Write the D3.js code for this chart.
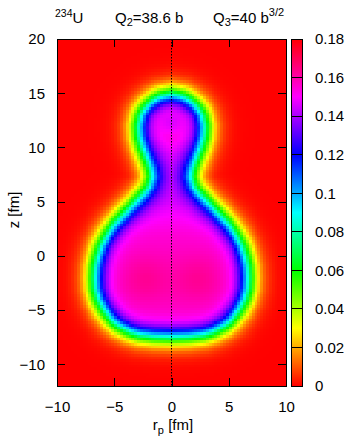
<!DOCTYPE html>
<html>
<head>
<meta charset="utf-8">
<script src="https://cdn.jsdelivr.net/npm/d3@7"></script>
<style>
  body { margin: 0; background: #fff; }
  svg text { font-family: "Liberation Sans", Arial, Helvetica, sans-serif; fill: #000; }
</style>
</head>
<body>
<svg id="chart" width="349" height="440"></svg>
<script>
// Half-density surface of the nucleus: radius r (fm) at height z (fm)
const surfaceZ = [15.0, 14.8, 14.5, 14.0, 13.5, 13.0, 12.0, 11.0, 10.0, 9.0, 8.0, 7.3, 6.5, 6.0, 5.0, 4.0, 3.0, 2.0, 1.0, 0.0, -1.0, -2.0, -3.0, -4.0, -5.0, -6.0, -6.5, -7.0, -7.3, -7.45, -7.5];
const surfaceR = [0.0, 0.95, 1.5, 2.1, 2.5, 2.75, 2.95, 2.9, 2.65, 2.3, 1.95, 1.85, 2.1, 2.45, 3.3, 4.2, 5.05, 5.7, 6.2, 6.5, 6.7, 6.75, 6.7, 6.45, 5.95, 5.2, 4.6, 3.7, 2.8, 1.5, 0.0];

// Bulk (saturation) density along the symmetry axis, fm^-3
const bulkZ   = [16, 13, 11, 9.5, 8, 6.5, 5, 3.5, 2, 0, -3, -6, -8];
const bulkRho = [0.157, 0.157, 0.155, 0.149, 0.146, 0.146, 0.147, 0.151, 0.155, 0.157, 0.158, 0.157, 0.156];

// Local bumps and dips of the inner density
const bumpR     = [0, -2.3, 2.3];
const bumpZ     = [12.3, -2.0, -2.0];
const bumpAmp   = [-0.009, 0.005, 0.005];
const bumpWidth = [0.7, 1.4, 1.4];

const diffuseness = 0.55;   // surface thickness parameter, fm
const gridStep = 0.25;      // mesh spacing, fm

const xTicks  = [-10, -5, 0, 5, 10];
const zTicks  = [-10, -5, 0, 5, 10, 15, 20];
const cbTicks = [0, 0.02, 0.04, 0.06, 0.08, 0.1, 0.12, 0.14, 0.16, 0.18];

const svg = d3.select("#chart");
const plot = { left: 57, right: 286, top: 39, bottom: 386 };
const cbar = { left: 291, right: 302 };

const x = d3.scaleLinear().domain([-10, 10]).range([plot.left, plot.right]);
const y = d3.scaleLinear().domain([-12, 20]).range([plot.bottom, plot.top]);
const cbY = d3.scaleLinear().domain([0, 0.18]).range([plot.bottom, plot.top]);

// HSV palette: hue runs once around the circle over the density range
const color = v => d3.hsl(Math.max(0, Math.min(1, v / 0.18)) * 360, 1, 0.5).toString();

const rAt = d3.scaleLinear().domain(surfaceZ).range(surfaceR);
const bulkAt = d3.scaleLinear().domain(bulkZ).range(bulkRho).clamp(true);

function segDist(px, pz, ax, az, bx, bz) {
  const dx = bx - ax, dz = bz - az;
  let t = ((px - ax) * dx + (pz - az) * dz) / (dx * dx + dz * dz);
  t = Math.max(0, Math.min(1, t));
  return Math.hypot(ax + t * dx - px, az + t * dz - pz);
}

function signedDistance(r, z) {
  const ar = Math.abs(r);
  let d = Infinity;
  for (let i = 0; i < surfaceZ.length - 1; i++) {
    d = Math.min(d, segDist(ar, z, surfaceR[i], surfaceZ[i], surfaceR[i + 1], surfaceZ[i + 1]));
  }
  const zMax = d3.max(surfaceZ), zMin = d3.min(surfaceZ);
  const inside = z <= zMax && z >= zMin && ar < rAt(z);
  return inside ? -d : d;
}

function density(r, z) {
  const f = 1 / (1 + Math.exp(signedDistance(r, z) / diffuseness));
  let rho = bulkAt(z);
  for (let k = 0; k < bumpR.length; k++) {
    const g = Math.exp(-((r - bumpR[k]) ** 2 + (z - bumpZ[k]) ** 2) / (2 * bumpWidth[k] ** 2));
    rho += bumpAmp[k] * g;
  }
  return rho * f;
}

// density mesh
const cells = [];
for (let r0 = -10; r0 < 10 - 1e-9; r0 += gridStep) {
  for (let z0 = -12; z0 < 20 - 1e-9; z0 += gridStep) {
    cells.push({ r0, z0, v: density(r0 + gridStep / 2, z0 + gridStep / 2) });
  }
}

svg.append("clipPath").attr("id", "plotClip")
  .append("rect")
  .attr("x", plot.left).attr("y", plot.top)
  .attr("width", plot.right - plot.left).attr("height", plot.bottom - plot.top);

svg.append("g").attr("clip-path", "url(#plotClip)")
  .selectAll("rect").data(cells).join("rect")
  .attr("x", d => x(d.r0))
  .attr("y", d => y(d.z0 + gridStep))
  .attr("width", d => x(d.r0 + gridStep) - x(d.r0) + 0.4)
  .attr("height", d => y(d.z0) - y(d.z0 + gridStep) + 0.4)
  .attr("fill", d => color(d.v))
  .attr("shape-rendering", "crispEdges");

// symmetry axis
svg.append("line")
  .attr("x1", x(0)).attr("x2", x(0))
  .attr("y1", plot.top).attr("y2", plot.bottom)
  .attr("stroke", "#000").attr("stroke-width", 1)
  .attr("stroke-dasharray", "1.5,1.5");

// axes with inward ticks
const tickLen = 8;
const gx = svg.append("g").attr("transform", `translate(0,${plot.bottom})`)
  .call(d3.axisBottom(x).tickValues(xTicks).tickSizeInner(-tickLen).tickSizeOuter(0).tickPadding(15).tickFormat(d3.format("d")));
const gxTop = svg.append("g").attr("transform", `translate(0,${plot.top})`)
  .call(d3.axisTop(x).tickValues(xTicks).tickSizeInner(-tickLen).tickSizeOuter(0).tickFormat(""));
const gy = svg.append("g").attr("transform", `translate(${plot.left},0)`)
  .call(d3.axisLeft(y).tickValues(zTicks).tickSizeInner(-tickLen).tickSizeOuter(0).tickPadding(12).tickFormat(d3.format("d")));
const gyRight = svg.append("g").attr("transform", `translate(${plot.right},0)`)
  .call(d3.axisRight(y).tickValues(zTicks).tickSizeInner(-tickLen).tickSizeOuter(0).tickFormat(""));

[gx, gxTop, gy, gyRight].forEach(g => {
  g.select(".domain").remove();
  g.selectAll(".tick line").attr("stroke", "#000").attr("shape-rendering", "crispEdges");
  g.selectAll("text").attr("font-size", 15).attr("font-family", null);
});

svg.append("rect")
  .attr("x", plot.left).attr("y", plot.top)
  .attr("width", plot.right - plot.left).attr("height", plot.bottom - plot.top)
  .attr("fill", "none").attr("stroke", "#000").attr("stroke-width", 1)
  .attr("shape-rendering", "crispEdges");

// colour bar
const cbSteps = d3.range(0, 347);
svg.append("g").selectAll("rect").data(cbSteps).join("rect")
  .attr("x", cbar.left)
  .attr("y", i => plot.top + i)
  .attr("width", cbar.right - cbar.left)
  .attr("height", 1.2)
  .attr("fill", i => color(cbY.invert(plot.top + i + 0.5)))
  .attr("shape-rendering", "crispEdges");

svg.append("g").selectAll("line").data(cbTicks.slice(1, -1)).join("line")
  .attr("x1", cbar.left).attr("x2", cbar.right)
  .attr("y1", d => cbY(d)).attr("y2", d => cbY(d))
  .attr("stroke", "#000").attr("shape-rendering", "crispEdges");

svg.append("rect")
  .attr("x", cbar.left).attr("y", plot.top)
  .attr("width", cbar.right - cbar.left).attr("height", plot.bottom - plot.top)
  .attr("fill", "none").attr("stroke", "#000")
  .attr("shape-rendering", "crispEdges");

const gcb = svg.append("g").attr("transform", `translate(${cbar.right},0)`)
  .call(d3.axisRight(cbY).tickValues(cbTicks).tickSize(0).tickPadding(13).tickFormat(d => d3.format("~g")(+d.toFixed(2))));
gcb.select(".domain").remove();
gcb.selectAll("text").attr("font-size", 15).attr("font-family", null);

// title line
const title = svg.append("g").attr("font-size", 15);
const t1 = title.append("text").attr("x", 55).attr("y", 22.5);
t1.append("tspan").attr("font-size", 10.5).attr("dy", -6).text("234");
t1.append("tspan").attr("dy", 6).text("U");

const t2 = title.append("text").attr("x", 115).attr("y", 22.5);
t2.append("tspan").text("Q");
t2.append("tspan").attr("font-size", 11).attr("dy", 3).text("2");
t2.append("tspan").attr("dy", -3).text("=38.6 b");

const t3 = title.append("text").attr("x", 213).attr("y", 22.5);
t3.append("tspan").text("Q");
t3.append("tspan").attr("font-size", 11).attr("dy", 3).text("3");
t3.append("tspan").attr("dy", -3).text("=40 b");
t3.append("tspan").attr("font-size", 11).attr("dy", -7).text("3/2");

// axis titles
const xl = svg.append("text").attr("x", 173).attr("y", 429.5).attr("text-anchor", "middle").attr("font-size", 15);
xl.append("tspan").text("r");
xl.append("tspan").attr("font-size", 11).attr("dy", 4).text("p");
xl.append("tspan").attr("dy", -4).text(" [fm]");

svg.append("text")
  .attr("transform", "translate(19,210) rotate(-90)")
  .attr("text-anchor", "middle").attr("font-size", 15)
  .text("z [fm]");
</script>
</body>
</html>
